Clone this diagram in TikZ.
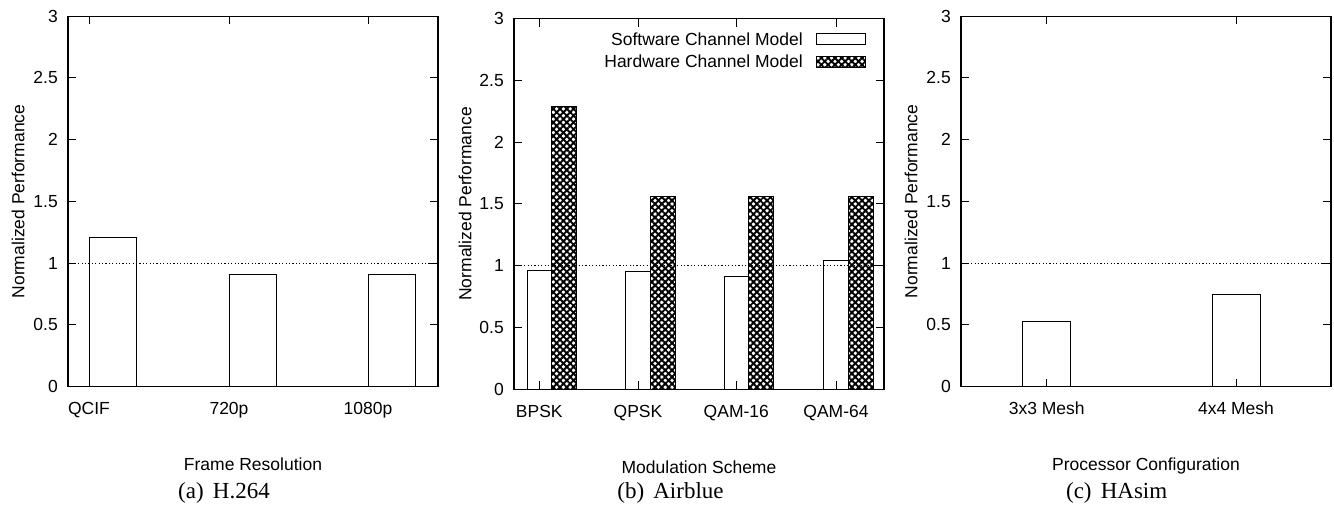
\documentclass[tikz,border=0pt]{standalone}
\usepackage{fontspec}
\setmainfont{Liberation Serif}
\setsansfont{Liberation Sans}
\usetikzlibrary{patterns.meta}

\begin{document}
\begin{tikzpicture}[
    x=1pt, y=1pt,
    frame/.style={line width=1.2pt},
    bar/.style={draw=black, line width=1pt, fill=white},
    hwbar/.style={bar, postaction={pattern={Hatch[angle=45, distance=4.8pt, line width=1.9pt]}}},
    tick/.style={line width=0.9pt},
    unitline/.style={line width=1pt, dash pattern=on 1.2pt off 2.2pt},
    ticklabel/.style={font=\sffamily\fontsize{17.5}{20}\selectfont, inner sep=0pt},
    axislabel/.style={ticklabel},
    subcap/.style={font=\fontsize{23}{26}\selectfont, inner sep=0pt, anchor=base},
    ]
    \useasboundingbox (0,0) rectangle (1334,506);

    % (a) H.264
    \begin{scope}[shift={(68,119.3)}, y=123.5pt]
        \foreach \t/\v in {21/1.21, 161/0.91, 300/0.91}
            \draw[bar] (\t,0) rectangle (\t+47,\v);
        \draw[unitline] (0,1) -- (370,1);
        \foreach \v [count=\i] in {0,0.5,1,1.5,2,2.5,3} {
            \draw[tick] (0,\v) -- ++(8pt,0);
            \draw[tick] (370,\v) -- ++(-8pt,0);
            \node[ticklabel, anchor=east] (a-y\i) at (-10pt,\v) {\v};
        }
        \foreach \t/\lab [count=\i] in {21/QCIF, 161/720p, 300/1080p} {
            \draw[tick] (\t,0) -- ++(0,8pt);
            \draw[tick] (\t,3) -- ++(0,-8pt);
            \node[ticklabel, anchor=base] (a-x\i) at (\t,-28pt) {\lab};
        }
        \draw[frame] (0,0) rectangle (370,3);
        \node[axislabel, anchor=base] (a-xtitle) at (185,-84pt) {Frame Resolution};
        \node[axislabel, rotate=90] (a-ytitle) at (-50pt,1.5) {Normalized Performance};
    \end{scope}

    % (b) Airblue
    \begin{scope}[shift={(514,116.8)}, y=123.5pt]
        \foreach \t/\s/\h in {25.3/0.96/2.29, 124/0.95/1.56, 222.3/0.91/1.56, 322/1.04/1.56} {
            \draw[bar] (\t-12.3,0) rectangle (\t+12.3,\s);
            \draw[hwbar] (\t+12.3,0) rectangle (\t+37,\h);
        }
        \draw[unitline] (0,1) -- (370,1);
        \foreach \v [count=\i] in {0,0.5,1,1.5,2,2.5,3} {
            \draw[tick] (0,\v) -- ++(8pt,0);
            \draw[tick] (370,\v) -- ++(-8pt,0);
            \node[ticklabel, anchor=east] (b-y\i) at (-10pt,\v) {\v};
        }
        \foreach \t/\lab [count=\i] in {25.3/BPSK, 124/QPSK, 222.3/QAM-16, 322/QAM-64} {
            \draw[tick] (\t,0) -- ++(0,8pt);
            \draw[tick] (\t,3) -- ++(0,-8pt);
            \node[ticklabel, anchor=base] (b-x\i) at (\t,-28pt) {\lab};
        }
        % legend
        \node[ticklabel, anchor=base east] (sw-key) at (289,343.8pt) {Software Channel Model};
        \draw[bar] (302.7,344.7pt) rectangle (351,355.7pt);
        \node[ticklabel, anchor=base east] (hw-key) at (289,321.3pt) {Hardware Channel Model};
        \draw[hwbar] (302.7,321.7pt) rectangle (351,332.3pt);
        \draw[frame] (0,0) rectangle (370,3);
        \node[axislabel, anchor=base] (b-xtitle) at (185,-84pt) {Modulation Scheme};
        \node[axislabel, rotate=90] (b-ytitle) at (-49pt,1.5) {Normalized Performance};
    \end{scope}

    % (c) HAsim
    \begin{scope}[shift={(961,119.3)}, y=123.5pt]
        \foreach \t/\v in {85.7/0.53, 275/0.75}
            \draw[bar] (\t-24,0) rectangle (\t+24,\v);
        \draw[unitline] (0,1) -- (370,1);
        \foreach \v [count=\i] in {0,0.5,1,1.5,2,2.5,3} {
            \draw[tick] (0,\v) -- ++(8pt,0);
            \draw[tick] (370,\v) -- ++(-8pt,0);
            \node[ticklabel, anchor=east] (c-y\i) at (-10pt,\v) {\v};
        }
        \foreach \t/\lab [count=\i] in {85.7/3x3 Mesh, 275/4x4 Mesh} {
            \draw[tick] (\t,0) -- ++(0,8pt);
            \draw[tick] (\t,3) -- ++(0,-8pt);
            \node[ticklabel, anchor=base] (c-x\i) at (\t,-28pt) {\lab};
        }
        \draw[frame] (0,0) rectangle (370,3);
        \node[axislabel, anchor=base] (c-xtitle) at (185,-84pt) {Processor Configuration};
        \node[axislabel, rotate=90] (c-ytitle) at (-50pt,1.5) {Normalized Performance};
    \end{scope}

    % sub-captions
    \node[subcap] (cap-a) at (224,7) {(a)\hspace{0.4em}H.264};
    \node[subcap] (cap-b) at (670.5,7) {(b)\hspace{0.4em}Airblue};
    \node[subcap] (cap-c) at (1116.7,7) {(c)\hspace{0.4em}HAsim};
\end{tikzpicture}
\end{document}
